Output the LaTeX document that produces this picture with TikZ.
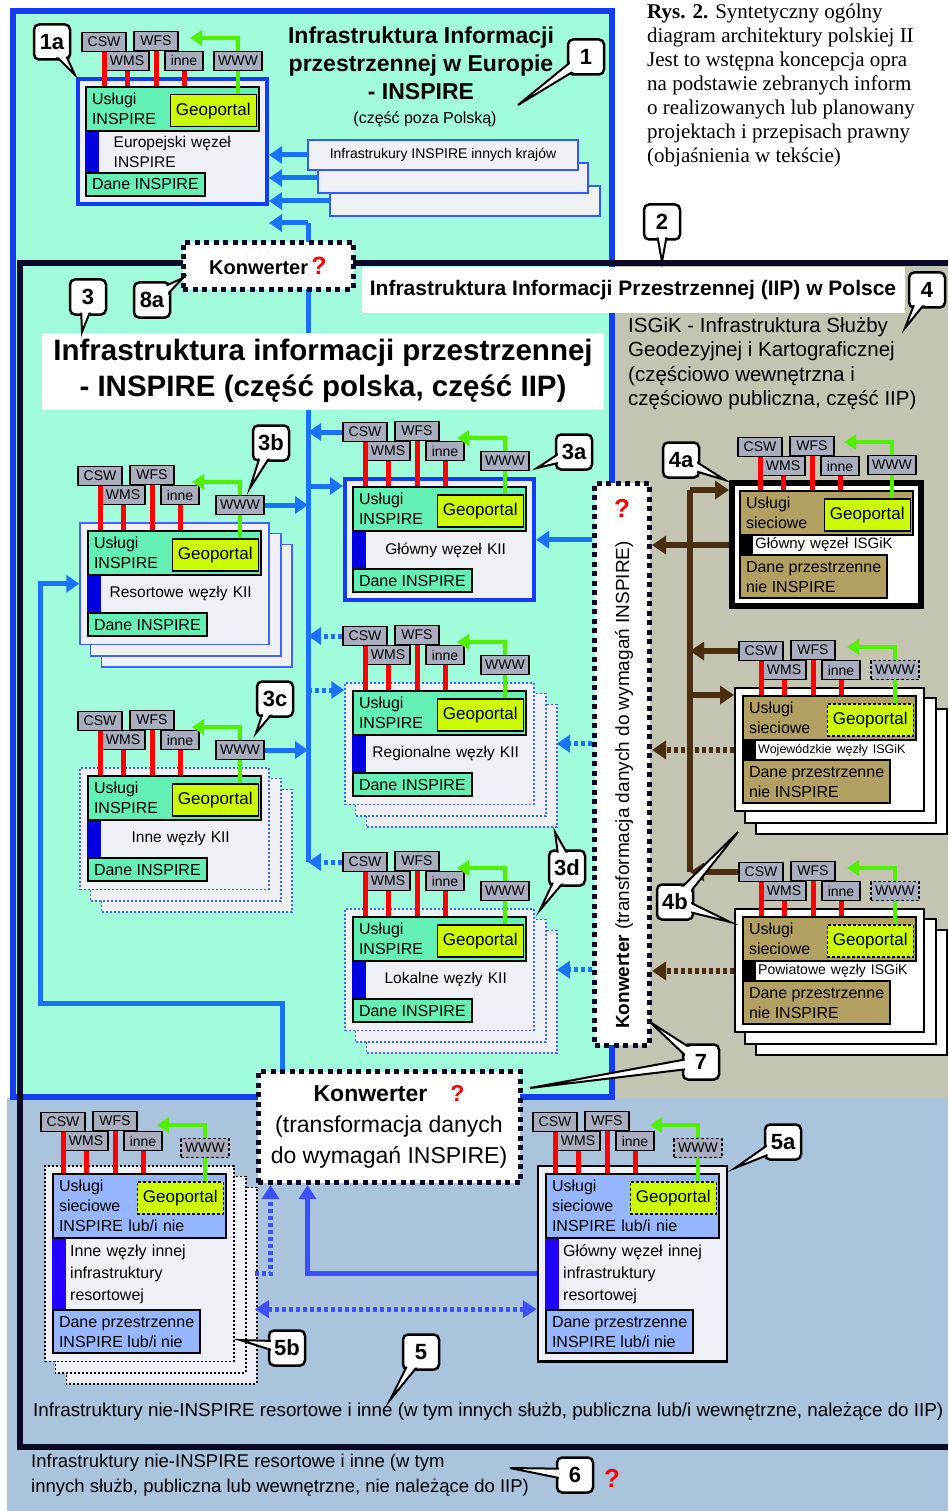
\documentclass[tikz,border=0pt]{standalone}
\usepackage{fontspec}
\setmainfont{Liberation Sans}
\newfontfamily\capfont{Liberation Serif}
\usepackage{graphicx}
\usetikzlibrary{positioning,calc,fit,arrows.meta}

\definecolor{mint}{RGB}{160,252,218}
\definecolor{frameblue}{RGB}{20,60,245}
\definecolor{flowblue}{RGB}{25,115,250}
\definecolor{panelmint}{RGB}{100,240,180}
\definecolor{geolime}{RGB}{204,250,0}
\definecolor{nodefill}{RGB}{238,240,245}
\definecolor{taggrey}{RGB}{168,174,190}
\definecolor{webgreen}{RGB}{80,240,0}
\definecolor{isgrey}{RGB}{196,196,178}
\definecolor{isgolive}{RGB}{178,160,98}
\definecolor{isgbrown}{RGB}{75,45,15}
\definecolor{resbg}{RGB}{170,196,222}
\definecolor{respanel}{RGB}{150,182,255}
\definecolor{resbar}{RGB}{34,0,255}
\definecolor{resflowc}{RGB}{60,80,255}
\definecolor{kiibar}{RGB}{0,0,225}
\definecolor{navy}{RGB}{10,10,40}

\pgfdeclarelayer{base}
\pgfdeclarelayer{bg}
\pgfdeclarelayer{back}
\pgfsetlayers{base,bg,back,main}

\newcommand{\nodefont}{\fontsize{16}{20}\selectfont}

\tikzset{
  tag/.style={draw=black, line width=1.5pt, fill=taggrey, minimum width=44pt,
    minimum height=19pt, inner sep=1pt, font=\fontsize{14}{14}\selectfont},
  geo/.style={draw=black, line width=1.5pt, fill=geolime, minimum width=86pt,
    minimum height=32pt, inner sep=2pt, font=\fontsize{17}{17}\selectfont},
  pelny/.style={},
  kreski/.style={dash pattern=on 3pt off 2pt},
  svc/.style={draw=red, line width=5pt},
  webline/.style={draw=webgreen, line width=4.5pt},
  web/.style={webline, -{Triangle[width=15pt,length=12pt]}},
  kii panel/.style={draw=black, line width=2pt, fill=panelmint, align=left,
    inner xsep=6pt, inner ysep=6pt, font=\nodefont},
  kii label/.style={text width=155pt, align=center, minimum height=36pt,
    inner xsep=2pt, inner ysep=4pt, font=\fontsize{15.5}{20}\selectfont},
  kii bar/.style={fill=kiibar},
  isg panel/.style={kii panel, fill=isgolive},
  isg label/.style={text width=151pt, align=left, minimum height=18pt,
    inner sep=2pt, fill=white, font=\fontsize{15}{15}\selectfont},
  isg bar/.style={fill=black},
  res panel/.style={kii panel, fill=respanel},
  res label/.style={text width=147pt, align=left, minimum height=70pt,
    inner sep=4pt, font=\fontsize{16}{22}\selectfont},
  res bar/.style={fill=resbar},
  kiimain/.style={draw=frameblue, line width=4pt, fill=nodefill, inner sep=7pt},
  kiistack/.style={draw=frameblue!80, line width=1.5pt, fill=nodefill, inner sep=7pt},
  kiidot/.style={kiistack, dash pattern=on 2pt off 2pt},
  isgmain/.style={draw=black, line width=6pt, fill=white, inner sep=7pt},
  isgstack/.style={draw=black, line width=2pt, fill=white, inner sep=7pt},
  resmain/.style={draw=black, line width=2.5pt, fill=nodefill, inner sep=7pt},
  resdot/.style={resmain, line width=1.5pt, dash pattern=on 2pt off 2pt},
  flowline/.style={draw=flowblue, line width=5pt},
  flow/.style={flowline, -{Triangle[width=17pt,length=13pt]}},
  flowdot/.style={flow, dash pattern=on 4pt off 3pt},
  brownline/.style={draw=isgbrown, line width=6pt},
  brownflow/.style={brownline, -{Triangle[width=18pt,length=14pt]}},
  browndot/.style={brownflow, dash pattern=on 4pt off 3pt},
  resflow/.style={draw=resflowc, line width=5pt, -{Triangle[width=17pt,length=14pt]}},
  resdotflow/.style={resflow, dash pattern=on 4pt off 3pt},
  konw/.style={draw=navy, line width=5pt, dash pattern=on 5pt off 4.5pt, fill=white},
  dymek/.style={draw=black, line width=2.5pt, rounded corners=5pt, fill=white,
    minimum width=36pt, minimum height=35pt, inner sep=2pt},
  dymek in/.style={fill=white, rounded corners=4pt, minimum width=32pt,
    minimum height=31pt, inner sep=2pt, font=\bfseries\fontsize{22}{22}\selectfont},
  qmark/.style={text=red, font=\bfseries\fontsize{26}{26}\selectfont, inner sep=0pt},
  krajbox/.style={draw=frameblue!85, line width=2pt, fill=nodefill, minimum width=270pt,
    minimum height=30pt, font=\fontsize{14}{14}\selectfont}
}

% wezel: #1 nazwa, #2 rodzina, #3 lewy gorny rog, #4 ramka, #5 uslugi,
% #6 opis, #7 dane, #8 przesuniecie etykiet, #9 styl WWW/Geoportal
\newcommand{\wezel}[9]{%
  \coordinate (#1nw) at (#3);
  \node[#2 panel, text width=161pt, anchor=north west] (#1usl)
    at ($(#1nw)+(7,8)$) {#5};
  \node[geo, #9, anchor=north east] (#1geo)
    at ($(#1usl.north east)+(-3,8)$) {Geoportal};
  \node[#2 label, anchor=north west] (#1lab)
    at ($(#1usl.south west)+(14,0)$) {#6};
  \node[#2 panel, anchor=north west] (#1dane)
    at ($(#1lab.south west)+(-14,0)$) {#7};
  \fill[#2 bar] (#1usl.south west) rectangle (#1lab.south west);
  \begin{pgfonlayer}{back}
    \node[#4, fit=(#1usl) (#1dane)] (#1) {};
  \end{pgfonlayer}
  \begin{scope}[shift={(#1nw)}]
    \begin{scope}[shift={(#8)}]
      \node[tag] (#1csw) at (20,-46) {CSW};
      \node[tag] (#1wfs) at (72,-47) {WFS};
      \node[tag] (#1wms) at (43,-27) {WMS};
      \node[tag, minimum width=38pt] (#1inne) at (100,-27) {inne};
    \end{scope}
    \node[tag, #9, minimum width=48pt] (#1www) at (160,-17) {WWW};
    \coordinate (#1webend) at (112,-40);
  \end{scope}
  \foreach \sv in {csw,wms,wfs,inne}
    \draw[svc] (#1\sv.south) -- (#1\sv.south |- #1usl.north);
  \draw[web] (#1www.north) |- (#1webend);
  \draw[webline] (#1www.south) -- (#1www.south |- #1geo.north);
}

% stos: dwie kopie ramki za wezlem
\newcommand{\stos}[2]{%
  \begin{pgfonlayer}{bg}
    \foreach \off in {22,11}
      \draw[#2] ([shift={(\off,\off)}]#1.north west)
        rectangle ([shift={(\off,\off)}]#1.south east);
  \end{pgfonlayer}
}

\newcommand{\wskaz}[3]{%
  \coordinate (#2) at (#3);
  \coordinate (#2base) at ($(#1.center)!12pt!(#2)$);
  \coordinate (#2left) at ($(#2base)!5pt!90:(#2)$);
  \coordinate (#2right) at ($(#2base)!5pt!-90:(#2)$);
  \fill[white] (#2left) -- (#2) -- (#2right) -- cycle;
  \draw[line width=2pt] (#2left) -- (#2) -- (#2right);
}
\newcommand{\dymek}[4]{%
  \node[dymek] (#1) at (#2) {};
  \wskaz{#1}{#1tip}{#4}
  \node[dymek in] (#1t) at (#1.center) {#3};
}
\newcommand{\dymekb}[5]{%
  \node[dymek] (#1) at (#2) {};
  \wskaz{#1}{#1tip}{#4}
  \wskaz{#1}{#1tipx}{#5}
  \node[dymek in] (#1t) at (#1.center) {#3};
}

\begin{document}
\begin{tikzpicture}[x=1pt, y=-1pt]
  \useasboundingbox (0,0) rectangle (948,1511);

  % tla obszarow
  \begin{pgfonlayer}{base}
    \fill[white] (0,0) rectangle (948,1511);
    \fill[resbg] (7,1098) rectangle (948,1511);
    \fill[isgrey] (612,266) rectangle (948,1098);
    \draw[frameblue, line width=6pt, fill=mint] (13,11) rectangle (612,1097);
    \draw[navy, line width=6pt] (948,263) -- (20,263) -- (20,1447) -- (948,1447);
  \end{pgfonlayer}

  % podpis
  \node[anchor=north west, align=left, inner sep=0pt,
    font=\capfont\fontsize{21}{24}\selectfont] (caption) at (647,4)
    {\textbf{Rys. 2.} Syntetyczny ogólny\\diagram architektury polskiej II\\
     Jest to wstępna koncepcja opra\\na podstawie zebranych inform\\
     o realizowanych lub planowany\\projektach i przepisach prawny\\
     (objaśnienia w tekście)};

  % Europa
  \node[font=\bfseries\fontsize{23}{28}\selectfont, align=center] (eutitle)
    at (421,63) {Infrastruktura Informacji\\przestrzennej w Europie\\- INSPIRE};
  \node[font=\fontsize{16}{16}\selectfont] (eusub) at (425,119) {(część poza Polską)};
  \node[krajbox] (st3) at (465,201) {};
  \node[krajbox] (st2) at (453,178) {};
  \node[krajbox] (st1) at (443,155) {Infrastrukury INSPIRE innych krajów};

  \wezel{eu}{kii}{78,78}{kiimain}{Usługi\\INSPIRE}
    {\parbox{130pt}{Europejski węzeł\\INSPIRE}}{Dane INSPIRE}{6,10}{pelny}

  % wezly KII
  \wezel{3a}{kii}{345,478}{kiimain}{Usługi\\INSPIRE}{Główny węzeł KII}
    {Dane INSPIRE}{0,0}{pelny}
  \wezel{3b}{kii}{80,522}{kiistack}{Usługi\\INSPIRE}{Resortowe węzły KII}
    {Dane INSPIRE}{0,0}{pelny}
  \stos{3b}{kiistack}
  \wezel{3c}{kii}{80,767}{kiidot}{Usługi\\INSPIRE}{Inne węzły KII}
    {Dane INSPIRE}{0,0}{pelny}
  \stos{3c}{kiidot}
  \wezel{reg}{kii}{345,682}{kiidot}{Usługi\\INSPIRE}{Regionalne węzły KII}
    {Dane INSPIRE}{0,0}{pelny}
  \stos{reg}{kiidot}
  \wezel{loc}{kii}{345,908}{kiidot}{Usługi\\INSPIRE}{Lokalne węzły KII}
    {Dane INSPIRE}{0,0}{pelny}
  \stos{loc}{kiidot}

  % wezly ISGiK
  \wezel{4a}{isg}{732,482}{isgmain}{Usługi\\sieciowe}{Główny węzeł ISGiK}
    {Dane przestrzenne\\nie INSPIRE}{8,11}{pelny}
  \wezel{woj}{isg}{735,687}{isgstack}{Usługi\\sieciowe}
    {{\fontsize{12.5}{13}\selectfont Wojewódzkie węzły ISGiK}}
    {Dane przestrzenne\\nie INSPIRE}{6,10}{kreski}
  \stos{woj}{isgstack}
  \wezel{pow}{isg}{735,908}{isgstack}{Usługi\\sieciowe}
    {{\fontsize{14}{14}\selectfont Powiatowe węzły ISGiK}}
    {Dane przestrzenne\\nie INSPIRE}{6,10}{kreski}
  \stos{pow}{isgstack}

  % wezly resortowe
  \wezel{5b}{res}{45,1165}{resdot}{Usługi\\sieciowe\\INSPIRE lub/i nie}
    {Inne węzły innej\\infrastruktury\\resortowej}
    {Dane przestrzenne\\INSPIRE lub/i nie}{-2,3}{kreski}
  \stos{5b}{resdot}
  \wezel{5a}{res}{538,1165}{resmain}{Usługi\\sieciowe\\INSPIRE lub/i nie}
    {Główny węzeł innej\\infrastruktury\\resortowej}
    {Dane przestrzenne\\INSPIRE lub/i nie}{-3,3}{kreski}

  % szyna KII
  \coordinate (bustop) at (308,223);
  \draw[flowline] (bustop) -- (bustop |- loccsw);
  \draw[flow] (bustop) -- (bustop -| eu.east);
  \draw[flow] (st1.west) -- (st1.west -| eu.east);
  \draw[flow] (st2.west) -- (st2.west -| eu.east);
  \draw[flow] (st3.west) -- (st3.west -| eu.east);
  \draw[flow] (3acsw.west) -- (3acsw.west -| bustop);
  \draw[flow] (bustop |- 3ausl.north) -- (3a.west |- 3ausl.north);
  \draw[flow] (3bwww.east) -- (3bwww.east -| bustop);
  \draw[flow] (3cwww.east) -- (3cwww.east -| bustop);
  \draw[flowdot] (regcsw.west) -- (regcsw.west -| bustop);
  \draw[flowdot] (bustop |- regusl.north) -- (reg.west |- regusl.north);
  \draw[flowdot] (loccsw.west) -- (loccsw.west -| bustop);

  % konwertery
  \node[konw, minimum width=170pt, minimum height=47pt,
    font=\bfseries\fontsize{20}{20}\selectfont] (kv8a) at (268,266)
    {Konwerter\,{\color{red}\fontsize{25}{25}\selectfont ?}};
  \node[konw, minimum width=55pt, minimum height=562pt] (kv) at (622,764) {};
  \node[rotate=90, font=\fontsize{19}{19}\selectfont] (kvtext) at (624,785)
    {\textbf{Konwerter} (transformacja danych do wymagań INSPIRE)};
  \node[qmark] (kvq) at (622,508) {?};
  \node[konw, minimum width=262pt, minimum height=111pt, align=center,
    font=\fontsize{23}{31}\selectfont] (kb) at (389,1127)
    {\textbf{Konwerter}\quad{\color{red}\bfseries ?}\\(transformacja danych\\do wymagań INSPIRE)};

  \draw[flow] (kv.west |- 3a.east) -- (3a.east);
  \draw[flowdot] (kv.west |- reg.east) -- ([xshift=22pt]reg.east);
  \draw[flowdot] (kv.west |- loc.east) -- ([xshift=22pt]loc.east);

  \coordinate (kbtap) at ($(kb.north west)+(27,0)$);
  \coordinate (resbus) at (40,1003);
  \draw[flow] (kbtap) -- (kbtap |- resbus) -- (resbus) |- (3b.west);

  % ISGiK
  \coordinate (isgbus) at (690,490);
  \draw[brownline] (isgbus) -- (isgbus |- powcsw);
  \draw[brownflow] (isgbus) -- (4a.west |- isgbus);
  \draw[brownflow] (wojcsw.west) -- (wojcsw.west -| isgbus);
  \draw[brownflow] (isgbus |- wojusl.north) -- (woj.west |- wojusl.north);
  \draw[brownflow] (powcsw.west) -- (powcsw.west -| isgbus);
  \draw[brownflow] (4a.west |- 4alab) -- (kv.east |- 4alab);
  \draw[browndot] (woj.west |- wojlab) -- (kv.east |- wojlab);
  \draw[browndot] (pow.west |- powlab) -- (kv.east |- powlab);

  % resortowe
  \coordinate (kbin1) at ($(kb.south west)+(15,0)$);
  \coordinate (kbin2) at ($(kb.south west)+(52,0)$);
  \coordinate (5bout) at ([xshift=20pt]5b.east);
  \draw[resflow] (5a.west |- 5alab) -| (kbin2);
  \draw[resdotflow] (5bout |- 5blab) -| (kbin1);
  \draw[resdotflow, {Triangle[width=17pt,length=14pt]}-{Triangle[width=17pt,length=14pt]}]
    (5bout |- 5bdane.north) -- (5a.west |- 5bdane.north);

  % tytuly
  \node[fill=white, align=center, minimum width=562pt, minimum height=77pt,
    font=\bfseries\fontsize{29.5}{36}\selectfont] (kiititle) at (323,371)
    {Infrastruktura informacji przestrzennej\\- INSPIRE (część polska, część IIP)};
  \node[fill=white, minimum width=543pt, minimum height=45pt,
    font=\bfseries\fontsize{21}{21}\selectfont] (iiptitle) at (633,290)
    {Infrastruktura Informacji Przestrzennej (IIP) w Polsce};
  \node[anchor=north west, align=left, inner sep=0pt,
    font=\fontsize{20.5}{24.5}\selectfont] (isgtitle) at (628,317)
    {ISGiK - Infrastruktura Służby\\Geodezyjnej i Kartograficznej\\
     (częściowo wewnętrzna i\\częściowo publiczna, część IIP)};
  \node[anchor=west, inner sep=0pt, font=\fontsize{18.8}{18.8}\selectfont] (restitle)
    at (33,1412) {Infrastruktury nie-INSPIRE resortowe i inne
    (w tym innych służb, publiczna lub/i wewnętrzne, należące do IIP)};
  \node[anchor=north west, align=left, inner sep=0pt,
    font=\fontsize{18.5}{25}\selectfont] (othertitle) at (31,1454)
    {Infrastruktury nie-INSPIRE resortowe i inne (w tym\\
     innych służb, publiczna lub wewnętrzne, nie należące do IIP)};
  \node[qmark] (q6) at (612,1478) {?};

  % objasnienia
  \dymek{c1a}{52,42}{1a}{75,75}
  \dymek{c1}{586,57}{1}{518,105}
  \dymek{c2}{662,222}{2}{662,262}
  \dymek{c3}{88,297}{3}{82,332}
  \dymek{c8a}{152,300}{8a}{183,278}
  \dymek{c4}{927,290}{4}{905,328}
  \dymek{c3a}{574,452}{3a}{537,468}
  \dymek{c3b}{271,443}{3b}{250,488}
  \dymek{c3c}{275,699}{3c}{256,733}
  \dymekb{c3d}{567,868}{3d}{555,832}{540,910}
  \dymek{c4a}{681,460}{4a}{725,480}
  \dymekb{c4b}{675,902}{4b}{738,832}{730,922}
  \dymekb{c7}{701,1062}{7}{650,1022}{530,1088}
  \dymek{c5a}{783,1142}{5a}{735,1168}
  \dymek{c5b}{287,1348}{5b}{240,1340}
  \dymek{c5}{421,1352}{5}{390,1400}
  \dymek{c6}{575,1475}{6}{510,1468}
\end{tikzpicture}
\end{document}
